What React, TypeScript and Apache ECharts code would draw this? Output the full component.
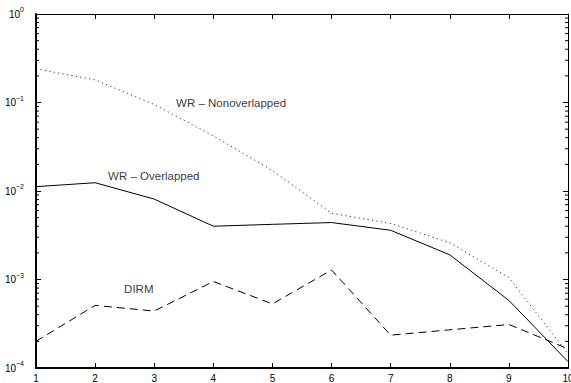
import React, { useEffect, useRef } from "react";
import * as echarts from "echarts";

const xValues = [1, 2, 3, 4, 5, 6, 7, 8, 9, 10];
const wrNonoverlapped = [0.24, 0.18, 0.095, 0.042, 0.017, 0.0056, 0.0043, 0.0026, 0.00105, 0.000145];
const wrOverlapped = [0.0112, 0.0124, 0.0081, 0.004, 0.0042, 0.0044, 0.0036, 0.0019, 0.00058, 0.000118];
const dirm = [0.0002, 0.00051, 0.00044, 0.00095, 0.00053, 0.00128, 0.000235, 0.00027, 0.00031, 0.000165];

const decades = [-4, -3, -2, -1];
const minorMultipliers = [2, 3, 4, 5, 6, 7, 8, 9];

const annotations = [
  { text: "WR \u2013 Nonoverlapped", x: 3.37, y: 0.0987 },
  { text: "WR \u2013 Overlapped", x: 2.22, y: 0.0147 },
  { text: "DIRM", x: 2.49, y: 0.00078 },
];

const FONT = "'Liberation Sans', Arial, Helvetica, sans-serif";

export default function App() {
  const ref = useRef<HTMLDivElement>(null);

  useEffect(() => {
    document.body.style.margin = "0";
    if (!ref.current) return;
    const chart = echarts.init(ref.current, undefined, { renderer: "svg" });

    const minorTicks: number[] = [];
    decades.forEach((e) => minorMultipliers.forEach((m) => minorTicks.push(m * Math.pow(10, e))));

    const pair = (arr: number[]) => xValues.map((x, i) => [x, arr[i]]);

    const yLabel = (v: number) => {
      const e = Math.round(Math.log10(v));
      const s = e < 0 ? "\u2212" + Math.abs(e) : String(e);
      return "{b|10}{s|" + s + "}";
    };

    chart.setOption({
      animation: false,
      textStyle: { fontFamily: FONT },
      grid: { left: 36, right: 3, top: 14, bottom: 15, containLabel: false, outerBoundsMode: "none" },
      xAxis: [
        {
          type: "value",
          min: 1,
          max: 10,
          interval: 1,
          position: "bottom",
          axisLine: { show: true, onZero: false, lineStyle: { color: "#000", width: 2 } },
          axisTick: { show: true, inside: true, length: 5, lineStyle: { color: "#000" } },
          axisLabel: { color: "#000", fontSize: 10, margin: 5, fontFamily: FONT, hideOverlap: false },
          splitLine: { show: false },
        },
        {
          type: "value",
          min: 1,
          max: 10,
          interval: 1,
          position: "top",
          axisLine: { show: true, onZero: false, lineStyle: { color: "#000", width: 1 } },
          axisTick: { show: true, inside: true, length: 5, lineStyle: { color: "#000" } },
          axisLabel: { show: false },
          splitLine: { show: false },
        },
      ],
      yAxis: [
        {
          type: "log",
          logBase: 10,
          min: 0.0001,
          max: 1,
          interval: 1,
          position: "left",
          axisLine: { show: true, onZero: false, lineStyle: { color: "#000", width: 2 } },
          axisTick: { show: true, inside: true, length: 5, lineStyle: { color: "#000" } },
          axisLabel: {
            color: "#000",
            margin: 12,
            formatter: yLabel,
            rich: {
              b: { fontSize: 10, lineHeight: 16, fontFamily: FONT, color: "#000" },
              s: { fontSize: 7, lineHeight: 9, verticalAlign: "top", fontFamily: FONT, color: "#000" },
            },
          },
          splitLine: { show: false },
        },
        {
          type: "log",
          logBase: 10,
          min: 0.0001,
          max: 1,
          interval: 1,
          position: "right",
          axisLine: { show: true, onZero: false, lineStyle: { color: "#000", width: 1 } },
          axisTick: { show: true, inside: true, length: 5, lineStyle: { color: "#000" } },
          axisLabel: { show: false },
          splitLine: { show: false },
        },
      ],
      series: [
        {
          name: "WR - Nonoverlapped",
          type: "line",
          data: pair(wrNonoverlapped),
          symbol: "none",
          lineStyle: { color: "#333", width: 1, type: [1.2, 3.3] },
        },
        {
          name: "WR - Overlapped",
          type: "line",
          data: pair(wrOverlapped),
          symbol: "none",
          lineStyle: { color: "#000", width: 1, type: "solid" },
        },
        {
          name: "DIRM",
          type: "line",
          data: pair(dirm),
          symbol: "none",
          lineStyle: { color: "#000", width: 1, type: [8, 5] },
        },
        {
          type: "scatter",
          symbolSize: 0,
          silent: true,
          data: annotations.map((a) => ({ value: [a.x, a.y], name: a.text })),
          label: {
            show: true,
            position: [0, 0],
            align: "left",
            verticalAlign: "middle",
            formatter: (p: any) => p.name,
            fontSize: 11.5,
            color: "#000",
            fontFamily: FONT,
          },
        },
        {
          type: "custom",
          silent: true,
          clip: false,
          data: minorTicks.map((v) => [1, v]),
          renderItem: (params: any, api: any) => {
            const v = api.value(1);
            const l = api.coord([1, v]);
            const r = api.coord([10, v]);
            return {
              type: "group",
              children: [
                { type: "line", shape: { x1: l[0], y1: l[1], x2: l[0] + 3, y2: l[1] }, style: { stroke: "#000", lineWidth: 1 } },
                { type: "line", shape: { x1: r[0], y1: r[1], x2: r[0] - 3, y2: r[1] }, style: { stroke: "#000", lineWidth: 1 } },
              ],
            };
          },
        },
      ],
    });

    return () => chart.dispose();
  }, []);

  return <div ref={ref} style={{ width: 571, height: 383 }} />;
}
